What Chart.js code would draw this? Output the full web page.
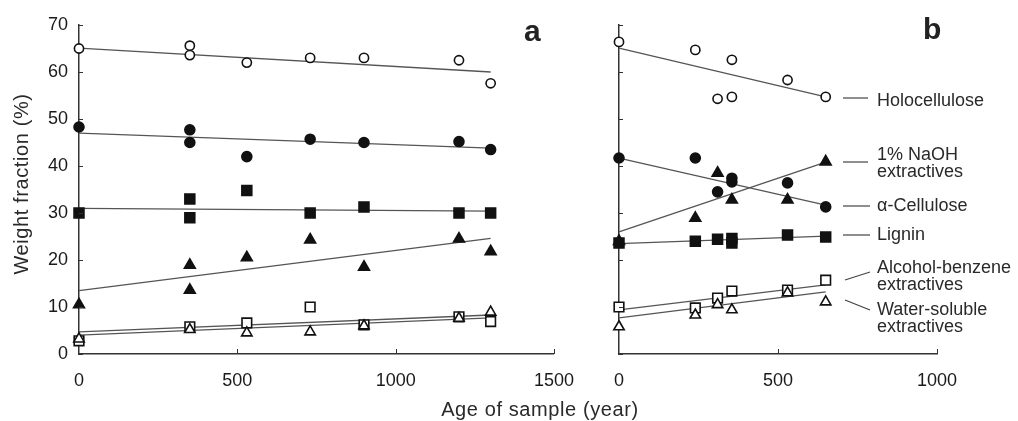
<!DOCTYPE html>
<html><head><meta charset="utf-8">
<script src="https://cdn.jsdelivr.net/npm/chart.js@4.4.1/dist/chart.umd.min.js"></script>
<style>
html,body{margin:0;padding:0;background:#fff;}
#wrap{position:relative;width:1018px;height:421px;overflow:hidden;background:#fff;font-family:"Liberation Sans",Arial,sans-serif;color:#2a2a2a;}
canvas{position:absolute;top:0;}
.lab{position:absolute;font-size:18px;line-height:17px;white-space:nowrap;color:#2a2a2a;}
.title{position:absolute;font-size:20px;white-space:nowrap;color:#2a2a2a;letter-spacing:0.6px;}
.panel{position:absolute;font-size:30px;font-weight:bold;color:#222;}
</style></head>
<body><div id="wrap">
<canvas id="ca" width="590" height="421" style="left:0"></canvas>
<canvas id="cb" width="428" height="421" style="left:590px"></canvas>
<svg width="1018" height="421" style="position:absolute;left:0;top:0" xmlns="http://www.w3.org/2000/svg">
<g stroke="#444" stroke-width="1.2">
<line x1="843" y1="98" x2="868" y2="98"/>
<line x1="843" y1="162" x2="868" y2="162"/>
<line x1="843" y1="206" x2="870" y2="206"/>
<line x1="843" y1="235" x2="870" y2="235"/>
<line x1="845" y1="280" x2="870" y2="272"/>
<line x1="845" y1="300" x2="870" y2="310"/>
</g></svg>
<div class="lab" style="left:877px;top:92px">Holocellulose</div>
<div class="lab" style="left:877px;top:146px">1% NaOH<br>extractives</div>
<div class="lab" style="left:877px;top:197px">α-Cellulose</div>
<div class="lab" style="left:877px;top:226px">Lignin</div>
<div class="lab" style="left:877px;top:259px">Alcohol-benzene<br>extractives</div>
<div class="lab" style="left:877px;top:301px">Water-soluble<br>extractives</div>
<div class="panel" style="left:524px;top:14px">a</div>
<div class="panel" style="left:923px;top:12px">b</div>
<div class="title" style="left:540px;top:409px;transform:translate(-50%,-50%)">Age of sample (year)</div>
<div class="title" style="left:21px;top:184px;transform:translate(-50%,-50%) rotate(-90deg)">Weight fraction (%)</div>
</div>
<script>
// ---------- Panel a data ----------
const ageA = [0, 350, 350, 530, 730, 900, 1200, 1300];
const holoA = [65, 65.6, 63.6, 62, 63, 63, 62.5, 57.6];
const alphaA = [48.3, 47.7, 45, 42, 45.7, 45, 45.2, 43.5];
const ligninA = [30, 33, 29, 34.8, 30, 31.3, 30, 30];
const naohA = [10.5, 18.9, 13.6, 20.5, 24.3, 18.5, 24.5, 21.8];
const ageA2 = [0, 350, 530, 730, 900, 1200, 1300];
const alcA = [2.8, 5.8, 6.6, 10, 6.2, 7.9, 6.9];
const waterA = [3.2, 5.2, 4.5, 4.7, 6.0, 7.6, 8.9];
const fitAgeA = [0, 1300];
const holoFitA = [65.1, 60];
const alphaFitA = [47, 43.8];
const ligninFitA = [31, 30.4];
const naohFitA = [13.5, 24.6];
const alcFitA = [4.7, 8.3];
const waterFitA = [4.0, 7.7];
// ---------- Panel b data ----------
const ageB = [0, 240, 355, 310, 355, 530, 650];
const holoB = [66.4, 64.7, 62.6, 54.3, 54.7, 58.3, 54.7];
const ageB2 = [0, 240, 310, 355, 355, 530, 650];
const alphaB = [41.7, 41.7, 34.5, 37.4, 36.6, 36.4, 31.3];
const ligninB = [23.6, 24, 24.4, 24.6, 23.6, 25.3, 24.9];
const ageB3 = [0, 240, 310, 355, 530, 650];
const naohB = [24, 28.9, 38.5, 32.8, 32.8, 40.9];
const alcB = [10, 9.8, 11.9, 13.4, 13.6, 15.7];
const waterB = [5.8, 8.3, 10.5, 9.4, 13, 11.1];
const fitAgeB = [0, 650];
const holoFitB = [65.1, 54.7];
const alphaFitB = [41.7, 31.7];
const ligninFitB = [23.5, 25.1];
const naohFitB = [26, 40.8];
const alcFitB = [9.4, 14.7];
const waterFitB = [7.7, 13.2];
// ---------- ticks ----------
const yTickVals = [0, 10, 20, 30, 40, 50, 60, 70];
const xTickValsA = [0, 500, 1000, 1500];
const xTickValsB = [0, 500, 1000];

const pts = (xs, ys) => xs.map((x, i) => ({x, y: ys[i]}));
const FONT = {family: '"Liberation Sans", Arial, sans-serif', size: 18};

function markers(xs, ys, style, filled, r) {
  return {data: pts(xs, ys), showLine: false, pointStyle: style, pointRadius: r, pointHoverRadius: r,
    backgroundColor: filled ? '#111' : '#fff', borderColor: '#111', pointBorderWidth: 1.6, order: 1, clip: false};
}
function fit(xs, ys) {
  return {data: pts(xs, ys), showLine: true, pointRadius: 0, borderColor: '#555', borderWidth: 1.3, fill: false, order: 2, clip: false};
}

const innerTicks = {
  id: 'innerTicks',
  afterDraw(chart, args, opts) {
    const {ctx, scales: {x, y}} = chart;
    ctx.save(); ctx.strokeStyle = '#333'; ctx.lineWidth = 1;
    ctx.beginPath();
    opts.yTicks.forEach(v => { const py = Math.round(y.getPixelForValue(v)) + 0.5; ctx.moveTo(x.left, py); ctx.lineTo(x.left + 4, py); });
    opts.xTicks.forEach(v => { const px = Math.round(x.getPixelForValue(v)) + 0.5; ctx.moveTo(px, y.bottom); ctx.lineTo(px, y.bottom - 5); });
    ctx.stroke(); ctx.restore();
  }
};

function makeChart(id, datasets, xmax, yWidth, padRight, showY, xTicks) {
  return new Chart(document.getElementById(id), {
    type: 'scatter',
    data: {datasets},
    options: {
      responsive: false, animation: false,
      layout: {padding: {left: 0, right: padRight, top: 25, bottom: 0}},
      plugins: {legend: {display: false}, tooltip: {enabled: false},
        innerTicks: {yTicks: yTickVals, xTicks: xTicks.filter(v => v > 0)}},
      scales: {
        x: {type: 'linear', min: 0, max: xmax,
          grid: {display: false, drawTicks: false},
          border: {display: true, color: '#333', width: 1.5},
          afterBuildTicks: s => { s.ticks = xTicks.map(v => ({value: v})); },
          ticks: {padding: 16, font: FONT, color: '#1a1a1a', callback: v => String(v)},
          afterFit: s => { s.height = 67; }},
        y: {type: 'linear', min: 0, max: 70,
          grid: {display: false, drawTicks: false},
          border: {display: true, color: '#333', width: 1.5},
          afterBuildTicks: s => { s.ticks = yTickVals.map(v => ({value: v})); },
          ticks: {display: showY, padding: 11, font: FONT, color: '#1a1a1a', callback: v => String(v)},
          afterFit: s => { s.width = yWidth; }}
      }
    },
    plugins: [innerTicks]
  });
}

makeChart('ca', [
  markers(ageA, holoA, 'circle', false, 4.6),
  markers(ageA, alphaA, 'circle', true, 5),
  markers(ageA, ligninA, 'rect', true, 7),
  markers(ageA, naohA, 'triangle', true, 6.3),
  markers(ageA2, waterA, 'triangle', false, 6),
  markers(ageA2, alcA, 'rect', false, 6.8),
  fit(fitAgeA, holoFitA), fit(fitAgeA, alphaFitA), fit(fitAgeA, ligninFitA),
  fit(fitAgeA, naohFitA), fit(fitAgeA, alcFitA), fit(fitAgeA, waterFitA)
], 1500, 79, 32, true, xTickValsA);

makeChart('cb', [
  markers(ageB, holoB, 'circle', false, 4.6),
  markers(ageB2, alphaB, 'circle', true, 5),
  markers(ageB3, naohB, 'triangle', true, 6.3),
  markers(ageB2, ligninB, 'rect', true, 7),
  markers(ageB3, waterB, 'triangle', false, 6),
  markers(ageB3, alcB, 'rect', false, 6.8),
  fit(fitAgeB, holoFitB), fit(fitAgeB, alphaFitB), fit(fitAgeB, ligninFitB),
  fit(fitAgeB, naohFitB), fit(fitAgeB, alcFitB), fit(fitAgeB, waterFitB)
], 1000, 29, 81, false, xTickValsB);
</script>
</body></html>
